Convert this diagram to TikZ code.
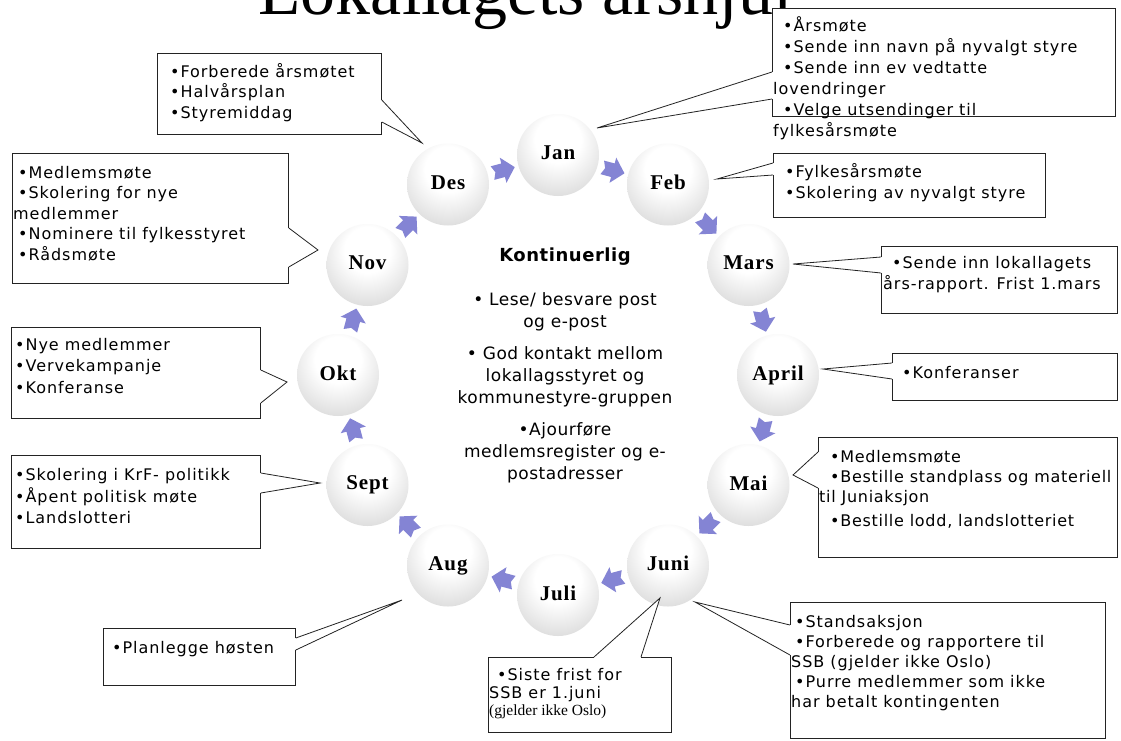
\documentclass[tikz,border=0pt]{standalone}
\usepackage{fontspec}
\setmainfont{DejaVu Sans}
\newfontfamily\boxfont{DejaVu Sans}[LetterSpace=6]
\newfontfamily\boxfontn{DejaVu Sans}[LetterSpace=4.5]
\newfontfamily\cenfont{DejaVu Sans}[LetterSpace=3]
\newfontfamily\monfont{Liberation Serif}[LetterSpace=4]
\newfontfamily\serfont{Liberation Serif}
\usetikzlibrary{calc}
\pgfdeclareradialshading{sphere}{\pgfpoint{0bp}{12bp}}{color(0bp)=(white); color(14bp)=(white); color(42bp)=(black!21); color(62bp)=(black!35)}
\definecolor{arrowc}{RGB}{132,132,212}
\definecolor{linec}{RGB}{35,35,35}
\newcommand\bind[1]{\hspace*{#1pt}}
\newcommand\callwedge[3]{%
  \draw[white, line width=2.2pt] (#1) -- (#3);
  \fill[white] (#1) -- (#2) -- (#3) -- cycle;
  \draw[cline] (#1) -- (#2) -- (#3);}
\tikzset{
  month/.style={circle, minimum size=82pt, inner sep=0pt, shade, shading=sphere,
    font=\monfont\bfseries\fontsize{21}{24}\selectfont},
  marrow/.style={fill=arrowc},
  cbox/.style={rectangle, draw=linec, line width=0.8pt, fill=white, inner sep=0pt, anchor=north west},
  cline/.style={draw=linec, line width=0.8pt, line join=miter},
  btext/.style={font=\boxfont\fontsize{16}{#1}\selectfont, align=left, anchor=north west, inner sep=0pt},
}
\begin{document}
\begin{tikzpicture}[x=1pt,y=-1pt]
\useasboundingbox (0,0) rectangle (1121,740);
\fill[white] (0,0) rectangle (1121,740);
% cropped title
\begin{scope}
\clip (0,0) rectangle (1121,740);
\node[font=\serfont\fontsize{70}{80}\selectfont, anchor=base west, inner sep=0pt] (title) at (258,14) {Lokallagets årshjul};
\end{scope}

% month circles
\node[month] (jan) at (558,155) {\raisebox{4pt}{Jan}};
\node[month] (feb) at (668,184.5) {\raisebox{4pt}{Feb}};
\node[month] (mar) at (748.5,265) {\raisebox{4pt}{Mars}};
\node[month] (apr) at (778,375) {\raisebox{4pt}{April}};
\node[month] (mai) at (748.5,485) {\raisebox{4pt}{Mai}};
\node[month] (jun) at (668,565.5) {\raisebox{4pt}{Juni}};
\node[month] (jul) at (558,595) {\raisebox{4pt}{Juli}};
\node[month] (aug) at (448,565.5) {\raisebox{4pt}{Aug}};
\node[month] (sep) at (367.5,485) {\raisebox{4pt}{Sept}};
\node[month] (okt) at (338,375) {\raisebox{4pt}{Okt}};
\node[month] (nov) at (367.5,265) {\raisebox{4pt}{Nov}};
\node[month] (des) at (448,184.5) {\raisebox{4pt}{Des}};

% block arrows between months (clockwise)
\foreach \a in {75,45,15,-15,-45,-75,-105,-135,-165,165,135,105}{
  \begin{scope}[shift={({558+212*cos(\a)},{375-212*sin(\a)})}, rotate={\a-90}]
    \fill[marrow] (-11,-7) -- (0,-7) -- (0,-13) -- (12,0) -- (0,13) -- (0,7) -- (-11,7) -- (-8,0) -- cycle;
  \end{scope}
}

% centre text
\node[font=\cenfont\bfseries\fontsize{18}{22}\selectfont, anchor=base, inner sep=0pt] (kont) at (565,261) {Kontinuerlig};
\node[font=\cenfont\fontsize{17}{22}\selectfont, align=center, anchor=north, inner sep=0pt] (cont) at (565,290) {\strut• Lese/ besvare post\\%
og e-post\\[10pt]%
• God kontakt mellom\\%
lokallagsstyret og\\%
kommunestyre-gruppen\\[10pt]%
•Ajourføre\\%
medlemsregister og e-\\%
postadresser};

% ---- callout boxes ----
% Jan
\node[cbox, minimum width=343pt, minimum height=108pt] (bjan) at (772,8) {};
\coordinate (jan1) at ($(bjan.north west)+(0,64)$);
\coordinate (jan2) at ($(bjan.north west)+(0,91)$);
\coordinate (jantip) at (597,128);
\callwedge{jan1}{jantip}{jan2}
\node[btext=21] (tjan) at (773,16.3) {\strut\bind{10}•Årsmøte\\%
\bind{10}•Sende inn navn på nyvalgt styre\\%
\bind{10}•Sende inn ev vedtatte\\%
lovendringer\\%
\bind{10}•Velge utsendinger til\\%
fylkesårsmøte};

% Des
\node[cbox, minimum width=224pt, minimum height=81pt] (bdes) at (157,53) {};
\coordinate (des1) at ($(bdes.north east)+(0,47)$);
\coordinate (des2) at ($(bdes.north east)+(0,69)$);
\coordinate (destip) at (422,143);
\callwedge{des1}{destip}{des2}
\node[btext=20.5] (tdes) at (170,62.65) {\strut•Forberede årsmøtet\\%
•Halvårsplan\\%
•Styremiddag};

% Nov
\node[cbox, minimum width=276pt, minimum height=130pt] (bnov) at (12,153) {};
\coordinate (nov1) at ($(bnov.north east)+(0,75)$);
\coordinate (nov2) at ($(bnov.north east)+(0,114)$);
\coordinate (novtip) at (318,250);
\callwedge{nov1}{novtip}{nov2}
\node[btext=20.5] (tnov) at (13,163.65) {\strut\bind{5}•Medlemsmøte\\%
\bind{5}•Skolering for nye\\%
medlemmer\\%
\bind{5}•Nominere til fylkesstyret\\%
\bind{5}•Rådsmøte};

% Feb
\node[cbox, minimum width=272pt, minimum height=64pt] (bfeb) at (773,153) {};
\coordinate (feb1) at ($(bfeb.north west)+(0,10)$);
\coordinate (feb2) at ($(bfeb.north west)+(0,22)$);
\coordinate (febtip) at (717,179);
\callwedge{feb1}{febtip}{feb2}
\node[btext=21] (tfeb) at (785,162.3) {\strut•Fylkesårsmøte\\%
•Skolering av nyvalgt styre};

% Mars
\node[cbox, minimum width=236pt, minimum height=67pt] (bmar) at (881,246) {};
\coordinate (mar1) at ($(bmar.north west)+(0,11)$);
\coordinate (mar2) at ($(bmar.north west)+(0,27)$);
\coordinate (martip) at (793,264);
\callwedge{mar1}{martip}{mar2}
\node[btext=20] (tmar) at (883,254) {\strut\bind{9}•Sende inn lokallagets\\%
års-rapport. Frist 1.mars};

% April
\node[cbox, minimum width=225pt, minimum height=47pt] (bapr) at (892,353) {};
\coordinate (apr1) at ($(bapr.north west)+(0,10)$);
\coordinate (apr2) at ($(bapr.north west)+(0,26)$);
\coordinate (aprtip) at (823,369);
\callwedge{apr1}{aprtip}{apr2}
\node[btext=20] (tapr) at (902,364) {\strut•Konferanser};

% Mai
\node[cbox, minimum width=299pt, minimum height=120pt] (bmai) at (818,437) {};
\coordinate (mai1) at ($(bmai.north west)+(0,15)$);
\coordinate (mai2) at ($(bmai.north west)+(0,51)$);
\coordinate (maitip) at (793,475);
\callwedge{mai1}{maitip}{mai2}
\node[btext=20, font=\boxfontn\fontsize{16}{20}\selectfont] (tmai) at (819,448) {\strut\bind{11}•Medlemsmøte\\%
\bind{11}•Bestille standplass og materiell\\%
til Juniaksjon\\[4pt]%
\bind{11}•Bestille lodd, landslotteriet};

% Okt
\node[cbox, minimum width=249pt, minimum height=91pt] (bokt) at (11,327) {};
\coordinate (okt1) at ($(bokt.north east)+(0,43)$);
\coordinate (okt2) at ($(bokt.north east)+(0,76)$);
\coordinate (okttip) at (287,382);
\callwedge{okt1}{okttip}{okt2}
\node[btext=21.5] (tokt) at (15,335) {\strut•Nye medlemmer\\%
•Vervekampanje\\%
•Konferanse};

% Sept
\node[cbox, minimum width=249pt, minimum height=93pt] (bsep) at (11,455) {};
\coordinate (sep1) at ($(bsep.north east)+(0,18)$);
\coordinate (sep2) at ($(bsep.north east)+(0,38)$);
\coordinate (septip) at (320,483);
\callwedge{sep1}{septip}{sep2}
\node[btext=21] (tsep) at (15,465.3) {\strut•Skolering i KrF- politikk\\%
•Åpent politisk møte\\%
•Landslotteri};

% Aug
\node[cbox, minimum width=192pt, minimum height=57pt] (baug) at (103,628) {};
\coordinate (aug1) at ($(baug.north east)+(0,10)$);
\coordinate (aug2) at ($(baug.north east)+(0,22)$);
\coordinate (augtip) at (402,600);
\callwedge{aug1}{augtip}{aug2}
\node[btext=20] (taug) at (112,639) {\strut•Planlegge høsten};

% Juni (Siste frist)
\node[cbox, minimum width=183pt, minimum height=75pt] (bsis) at (488,657) {};
\coordinate (sis1) at ($(bsis.north west)+(106,0)$);
\coordinate (sis2) at ($(bsis.north west)+(153,0)$);
\coordinate (sistip) at (660,598);
\callwedge{sis1}{sistip}{sis2}
\node[btext=17] (tsis) at (489,668.1) {\strut\bind{8}•Siste frist for\\%
SSB er 1.juni\\%
{\serfont\fontsize{15.5}{17}\selectfont (gjelder ikke Oslo)}};

% Juni (Standsaksjon)
\node[cbox, minimum width=315pt, minimum height=136pt] (bsta) at (790,602) {};
\coordinate (sta1) at ($(bsta.north west)+(0,23)$);
\coordinate (sta2) at ($(bsta.north west)+(0,53)$);
\coordinate (statip) at (695,602);
\callwedge{sta1}{statip}{sta2}
\node[btext=20] (tsta) at (791,613) {\strut\bind{4}•Standsaksjon\\%
\bind{4}•Forberede og rapportere til\\%
SSB (gjelder ikke Oslo)\\%
\bind{4}•Purre medlemmer som ikke\\%
har betalt kontingenten};
\end{tikzpicture}
\end{document}
